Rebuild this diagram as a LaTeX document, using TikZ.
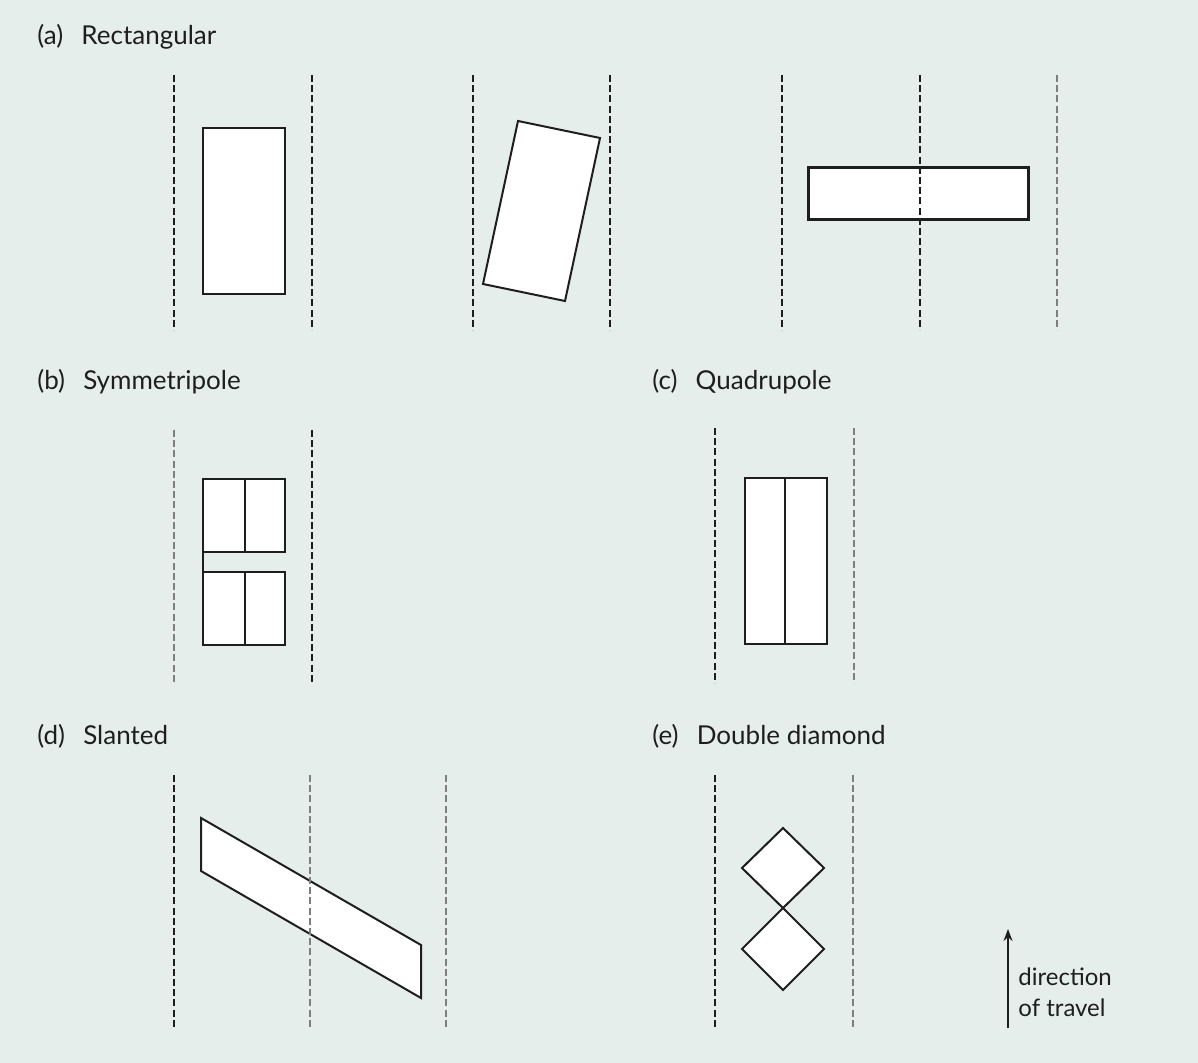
\documentclass[tikz,border=0pt]{standalone}
\usepackage{fontspec}
\setmainfont{Lato}
\usepackage{xcolor}
\usetikzlibrary{arrows.meta}
\definecolor{panelbg}{HTML}{E6EEEC}
\definecolor{inkdark}{HTML}{1E1E1E}
\definecolor{lanegray}{HTML}{7E7E7E}

\begin{document}
\begin{tikzpicture}[x=0.5pt, y=-0.5pt,
    lane/.style={dash pattern=on 3.5pt off 1.6pt, line width=0.9pt},
    coil/.style={draw=inkdark, fill=white, line width=1pt, line join=miter},
    label/.style={anchor=base west, inner sep=0pt, text=inkdark, font=\fontsize{13}{16}\selectfont},
    note/.style={label, font=\fontsize{12}{15}\selectfont}]
    \fill[panelbg] (0,0) rectangle (1198,1063);
    \useasboundingbox (0,0) rectangle (1198,1063);
    % (a) rectangular
    \node[label] (titleA) at (37,45) {(a)\hspace{0.7em}Rectangular};
    \draw[coil] (203,128) rectangle (285,294);
    \draw[coil] (518,121) -- (600,138) -- (565,301) -- (483,284) -- cycle;
    \draw[coil, line width=1.5pt] (808,168) rectangle (1028,220);
    % (b) symmetripole
    \node[label] (titleB) at (37,390) {(b)\hspace{0.7em}Symmetripole};
    \draw[coil] (203,479) rectangle (285,552);
    \draw[coil] (203,572) rectangle (285,645);
    \draw[inkdark, line width=1pt] (245,479) -- (245,552) (245,572) -- (245,645) (203,552) -- (203,572);
    % (c) quadrupole
    \node[label] (titleC) at (652,390) {(c)\hspace{0.7em}Quadrupole};
    \draw[coil] (745,478) rectangle (827,644);
    \draw[inkdark, line width=1pt] (785,478) -- (785,644);
    % (d) slanted
    \node[label] (titleD) at (37,744) {(d)\hspace{0.7em}Slanted};
    \draw[coil] (201,818) -- (421,945) -- (421,998) -- (201,871) -- cycle;
    % (e) double diamond
    \node[label] (titleE) at (652,744) {(e)\hspace{0.7em}Double diamond};
    \draw[coil] (783,828) -- (824,868) -- (783,908) -- (742,868) -- cycle;
    \draw[coil] (783,908) -- (824,949) -- (783,990) -- (742,949) -- cycle;
    % lane markings (on top)
    \foreach \x/\t/\b/\c in {174/75/330/inkdark,312/75/330/inkdark,473/75/330/inkdark,610/75/330/inkdark,
        782/75/330/inkdark,920/75/330/inkdark,1057/75/330/lanegray,
        174/430/683/lanegray,312/430/683/inkdark,715/428/683/inkdark,854/428/683/lanegray,
        174/775/1028/inkdark,310/775/1028/lanegray,446/775/1028/lanegray,
        715/775/1028/inkdark,853/775/1028/lanegray} {
        \draw[lane, draw=\c] (\x,\t) -- (\x,\b);
    }
    % direction of travel
    \coordinate (travelfoot) at (1008,1028);
    \coordinate (travelhead) at (1008,929);
    \draw[-{Stealth[length=6pt, width=4.5pt]}, inkdark, line width=0.8pt] (travelfoot) -- (travelhead);
    \node[note] (travelA) at (1018,985) {direction};
    \node[note] (travelB) at (1018,1016) {of travel};
\end{tikzpicture}
\end{document}
